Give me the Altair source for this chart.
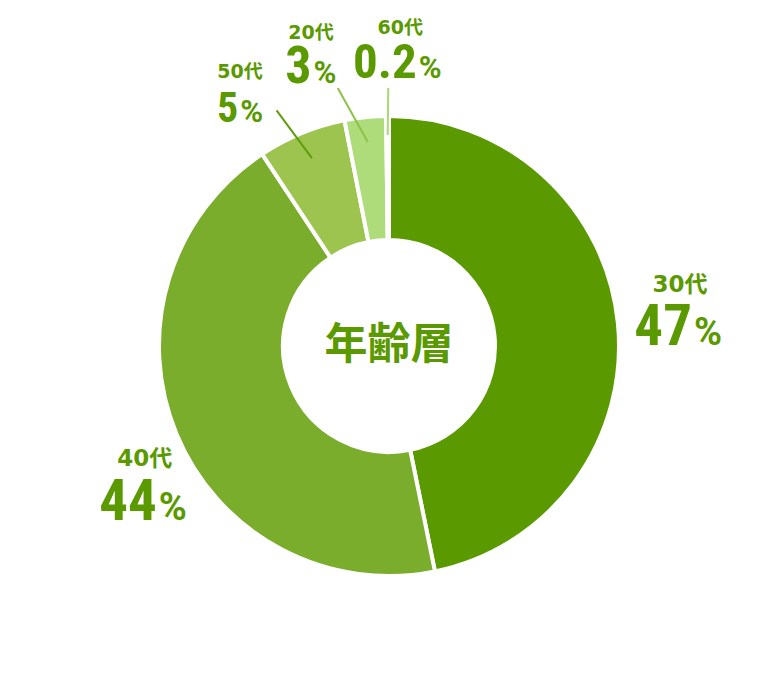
import math
import numpy as np
import pandas as pd
import altair as alt

# ---- data ----
categories = ["30代", "40代", "50代", "20代", "60代"]
arc_values = [46.8, 43.9, 6.2, 2.9, 0.2]          # slice sizes (%), clockwise from 12 o'clock
pct_labels = ["47", "44", "5", "3", "0.2"]         # printed percentages
slice_colors = ["#5a9a00", "#7bad2c", "#9dc44e", "#afdc7a", "#c8eaa4"]
center_title = "年齢層"

# ---- layout / style (not data) ----
W, H = 762, 676
CX, CY = W / 2, H / 2
TEXT_COLOR = "#5a9a00"
# label anchor: (angle nudge from slice middle in degrees, radius px)
label_polar = {"30代": (5.6, 303), "40代": (-14.3, 290), "50代": (-11.6, 270),
               "20代": (-10.5, 274), "60代": (6.3, 269)}
num_size = {"30代": 57, "40代": 57, "50代": 42, "20代": 52, "60代": 49}
pct_size = {"30代": 38, "40代": 38, "50代": 31, "20代": 31, "60代": 31}
cat_size = {"30代": 23, "40代": 23, "50代": 19, "20代": 19, "60代": 19}
cat_dy = {"30代": -60, "40代": -61, "50代": -50, "20代": -50, "60代": -50}
# leader lines: (start-angle nudge, start radius, end radius, colour)
leaders = {"50代": (-3.2, 261, 203, "#5f9c0c"),
           "20代": (-5.3, 263, 205, "#8cc24a"),
           "60代": (0.2, 258, 211, "#a8d878")}

total = sum(arc_values)
cum = np.cumsum(arc_values)
starts = (cum - np.array(arc_values)) / total * 360
mids = starts + np.array(arc_values) / total * 180


def polar(angle_deg, r):
    a = math.radians(angle_deg)
    return CX + r * math.sin(a), CY - r * math.cos(a)


arc_df = pd.DataFrame({"cat": categories, "v": arc_values,
                       "idx": list(range(len(categories))), "fill": slice_colors})

rows = []
for c, p, m in zip(categories, pct_labels, mids):
    nudge, r = label_polar[c]
    ax, ay = polar(m + nudge, r)
    digit_w = sum(0.228 if ch == "." else 0.456 for ch in p) * num_size[c]
    pct_w = 0.73 * pct_size[c]
    bx = ax + (pct_w - digit_w) / 2
    rows.append({"cat": c, "num": p, "ax": ax, "ay": ay, "cx": bx,
                 "cy": ay + cat_dy[c], "ns": num_size[c], "ps": pct_size[c],
                 "cs": cat_size[c], "pct": "%"})
lab_df = pd.DataFrame(rows)

lines = []
for c, m in zip(categories, mids):
    if c in leaders:
        nud, r1, r2, col = leaders[c]
        x1, y1 = polar(m + nud, r1)
        x2, y2 = polar(m, r2)
        lines.append({"x": x1, "y": y1, "x2": x2, "y2": y2, "lc": col})
line_df = pd.DataFrame(lines)

xs = alt.Scale(domain=[0, W], range=[0, W])
ys = alt.Scale(domain=[0, H], range=[0, H])

arcs = alt.Chart(arc_df).mark_arc(outerRadius=230, innerRadius=106,
                                  stroke="white", strokeWidth=4).encode(
    theta=alt.Theta("v:Q", stack=True),
    order=alt.Order("idx:Q"),
    color=alt.Color("fill:N", scale=None),
)

rules = alt.Chart(line_df).mark_rule(strokeWidth=2).encode(
    x=alt.X("x:Q", scale=xs, axis=None), y=alt.Y("y:Q", scale=ys, axis=None),
    x2="x2:Q", y2="y2:Q",
    color=alt.Color("lc:N", scale=None),
)

cat_text = alt.Chart(lab_df).mark_text(
    font="DejaVu Sans, Noto Sans CJK JP", fontWeight="bold",
    align="center", baseline="middle", color=TEXT_COLOR).encode(
    x=alt.X("cx:Q", scale=xs, axis=None), y=alt.Y("cy:Q", scale=ys, axis=None),
    text="cat:N", size=alt.Size("cs:Q", scale=None),
)

num_text = alt.Chart(lab_df).mark_text(
    font="Liberation Sans Narrow, Roboto Condensed, Roboto", fontWeight="bold",
    align="right", baseline="alphabetic", color=TEXT_COLOR).encode(
    x=alt.X("ax:Q", scale=xs, axis=None), y=alt.Y("ay:Q", scale=ys, axis=None),
    text="num:N", size=alt.Size("ns:Q", scale=None),
)

pct_text = alt.Chart(lab_df).mark_text(
    font="Roboto", fontWeight="bold", dx=2,
    align="left", baseline="alphabetic", color=TEXT_COLOR).encode(
    x=alt.X("ax:Q", scale=xs, axis=None), y=alt.Y("ay:Q", scale=ys, axis=None),
    text="pct:N", size=alt.Size("ps:Q", scale=None),
)

center = alt.Chart(pd.DataFrame({"t": [center_title]})).mark_text(
    font="Noto Sans CJK JP", fontWeight="bold", fontSize=43,
    align="center", baseline="middle", color=TEXT_COLOR).encode(
    text="t:N", x=alt.value(CX), y=alt.value(CY),
)

chart = alt.layer(arcs, rules, cat_text, num_text, pct_text, center).properties(
    width=W, height=H, padding=0, autosize=alt.AutoSizeParams(type="none"),
).configure_view(stroke=None)

chart.save("out.html", embed_options={"renderer": "svg", "actions": False})
